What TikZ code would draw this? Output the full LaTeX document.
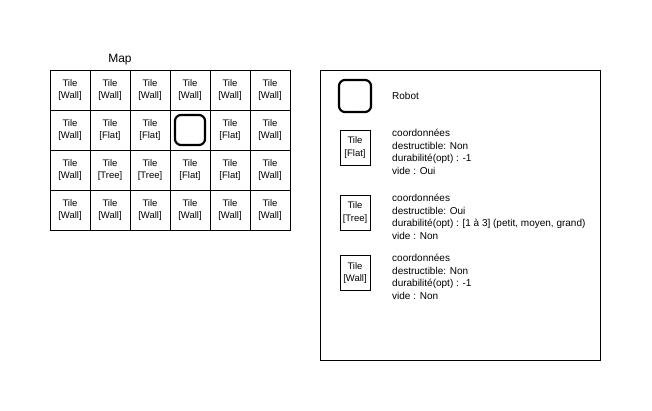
\documentclass[tikz,border=0pt]{standalone}
\usepackage{fontspec}
\setmainfont{Liberation Sans}

\begin{document}
\begin{tikzpicture}[x=1pt,y=-1pt,
  tile/.style={draw,minimum width=40pt,minimum height=40pt,inner sep=0pt,align=center,
    font=\fontsize{9.5}{12}\selectfont},
  legendtile/.style={draw,minimum width=30pt,minimum height=35pt,inner sep=0pt,align=center,
    font=\fontsize{9.5}{12.5}\selectfont},
  robotbox/.style={draw,line width=2.2pt,rounded corners=6pt,minimum size=30pt,inner sep=0pt},
  legendtxt/.style={anchor=north west,inner sep=0pt,align=left,
    font=\fontsize{10}{12.5}\selectfont}]

\useasboundingbox (0,0) rectangle (652,411);

% Map:
\node (maplbl) at (120,60) {\fontsize{12}{14}\selectfont Map};

% 1st row:
\node[tile] (c11) at (70,90)  {Tile\\{[Wall]}};
\node[tile] (c12) at (110,90) {Tile\\{[Wall]}};
\node[tile] (c13) at (150,90) {Tile\\{[Wall]}};
\node[tile] (c14) at (190,90) {Tile\\{[Wall]}};
\node[tile] (c15) at (230,90) {Tile\\{[Wall]}};
\node[tile] (c16) at (270,90) {Tile\\{[Wall]}};

% 2nd row:
\node[tile] (c21) at (70,130)  {Tile\\{[Wall]}};
\node[tile] (c22) at (110,130) {Tile\\{[Flat]}};
\node[tile] (c23) at (150,130) {Tile\\{[Flat]}};
\node[tile] (c24) at (190,130) {};
\node[tile] (c25) at (230,130) {Tile\\{[Flat]}};
\node[tile] (c26) at (270,130) {Tile\\{[Wall]}};

\node[robotbox] (robot) at (c24) {};

% 3rd row:
\node[tile] (c31) at (70,170)  {Tile\\{[Wall]}};
\node[tile] (c32) at (110,170) {Tile\\{[Tree]}};
\node[tile] (c33) at (150,170) {Tile\\{[Tree]}};
\node[tile] (c34) at (190,170) {Tile\\{[Flat]}};
\node[tile] (c35) at (230,170) {Tile\\{[Flat]}};
\node[tile] (c36) at (270,170) {Tile\\{[Wall]}};

% 4th row:
\node[tile] (c41) at (70,210)  {Tile\\{[Wall]}};
\node[tile] (c42) at (110,210) {Tile\\{[Wall]}};
\node[tile] (c43) at (150,210) {Tile\\{[Wall]}};
\node[tile] (c44) at (190,210) {Tile\\{[Wall]}};
\node[tile] (c45) at (230,210) {Tile\\{[Wall]}};
\node[tile] (c46) at (270,210) {Tile\\{[Wall]}};


% legend:
\draw (320,70) coordinate(X) -- ++(280,0) -- ++(0,290) -| (X);

\node[robotbox,minimum size=32pt] (robotkey) at (355,96) {};
\node[right,inner sep=0pt,font=\fontsize{10}{12.5}\selectfont] (robotlbl) at (392,96) {Robot};

\node[legendtile] (flatkey) at (355,147.5) {Tile\\{[Flat]}};
\node[legendtxt] (flattxt) at (392,129) {coordonnées\\destructible: Non\\durabilité(opt) : -1\\vide : Oui};

\node[legendtile] (treekey) at (355,212.5) {Tile\\{[Tree]}};
\node[legendtxt] (treetxt) at (392,194) {coordonnées\\destructible: Oui\\durabilité(opt) : [1 à 3] (petit, moyen, grand)\\vide : Non};

\node[legendtile] (wallkey) at (355,273) {Tile\\{[Wall]}};
\node[legendtxt] (walltxt) at (392,254) {coordonnées\\destructible: Non\\durabilité(opt) : -1\\vide : Non};

\end{tikzpicture}
\end{document}
